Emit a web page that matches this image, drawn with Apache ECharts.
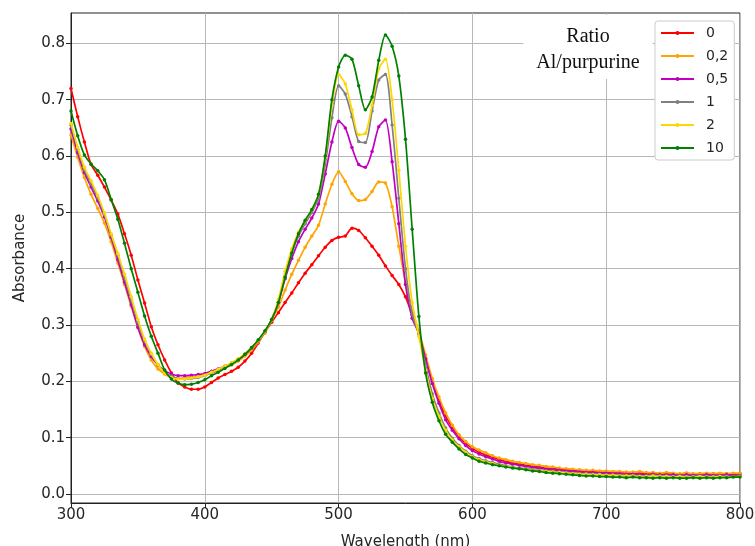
<!DOCTYPE html>
<html><head><meta charset="utf-8">
<script src="https://cdn.jsdelivr.net/npm/echarts@6/dist/echarts.min.js"></script>
<style>html,body{margin:0;padding:0;background:#fff}#c{width:755px;height:546px}</style>
</head><body><div id="c"></div>
<script>
const wavelengths = [300,305,310,315,320,325,330,335,340,345,350,355,360,365,370,375,380,385,390,395,
400,405,410,415,420,425,430,435,440,445,450,455,460,465,470,475,480,485,490,495,
500,505,510,515,520,525,530,535,540,545,550,555,560,565,570,575,580,585,590,595,
600,605,610,615,620,625,630,635,640,645,650,655,660,665,670,675,680,685,690,695,
700,705,710,715,720,725,730,735,740,745,750,755,760,765,770,775,780,785,790,795,800];

const ratio0 = [0.720,0.670,0.625,0.585,0.566,0.545,0.522,0.497,0.462,0.424,
0.380,0.339,0.297,0.265,0.238,0.215,0.197,0.190,0.186,0.186,
0.190,0.198,0.206,0.212,0.218,0.225,0.236,0.250,0.268,0.288,
0.305,0.322,0.340,0.357,0.375,0.392,0.407,0.423,0.438,0.450,
0.456,0.458,0.472,0.468,0.455,0.440,0.424,0.405,0.388,0.372,
0.350,0.318,0.285,0.240,0.200,0.166,0.139,0.118,0.102,0.090,
0.081,0.074,0.069,0.065,0.061,0.058,0.055,0.053,0.051,0.049,
0.048,0.046,0.045,0.044,0.043,0.042,0.041,0.040,0.040,0.039,
0.038,0.038,0.037,0.038,0.036,0.037,0.036,0.037,0.035,0.036,
0.036,0.035,0.037,0.035,0.036,0.035,0.036,0.035,0.036,0.035,0.036];

const ratio02 = [0.638,0.598,0.562,0.532,0.507,0.481,0.448,0.410,0.372,0.333,
0.295,0.262,0.238,0.222,0.213,0.207,0.205,0.206,0.208,0.209,
0.211,0.215,0.219,0.224,0.229,0.236,0.245,0.256,0.270,0.286,
0.308,0.332,0.362,0.390,0.415,0.438,0.458,0.477,0.515,0.550,
0.572,0.555,0.533,0.521,0.523,0.537,0.554,0.552,0.510,0.440,
0.375,0.325,0.290,0.247,0.205,0.172,0.144,0.122,0.105,0.093,
0.084,0.078,0.073,0.068,0.064,0.061,0.058,0.056,0.054,0.052,
0.051,0.049,0.048,0.046,0.045,0.044,0.043,0.042,0.042,0.041,
0.041,0.040,0.040,0.039,0.039,0.040,0.038,0.038,0.037,0.038,
0.037,0.036,0.037,0.036,0.036,0.037,0.036,0.037,0.036,0.037,0.037];

const ratio05 = [0.648,0.606,0.571,0.545,0.520,0.492,0.456,0.416,0.376,0.336,
0.296,0.265,0.244,0.229,0.219,0.213,0.210,0.210,0.211,0.212,
0.214,0.218,0.222,0.227,0.232,0.239,0.248,0.259,0.272,0.288,
0.310,0.340,0.382,0.418,0.448,0.470,0.490,0.515,0.568,0.625,
0.662,0.650,0.615,0.585,0.580,0.608,0.652,0.664,0.590,0.480,
0.372,0.312,0.285,0.240,0.196,0.161,0.132,0.113,0.098,0.086,
0.077,0.071,0.066,0.062,0.058,0.055,0.053,0.051,0.049,0.047,
0.046,0.044,0.043,0.042,0.041,0.040,0.039,0.038,0.038,0.037,
0.037,0.036,0.036,0.035,0.035,0.035,0.034,0.035,0.034,0.034,
0.034,0.033,0.034,0.033,0.033,0.034,0.033,0.033,0.034,0.033,0.033];

const ratio1 = [0.655,0.612,0.576,0.551,0.526,0.496,0.460,0.424,0.385,0.345,
0.305,0.272,0.248,0.229,0.216,0.209,0.205,0.204,0.205,0.207,
0.210,0.215,0.220,0.226,0.232,0.239,0.248,0.259,0.272,0.288,
0.310,0.340,0.388,0.428,0.458,0.480,0.500,0.525,0.585,0.668,
0.725,0.710,0.670,0.626,0.624,0.680,0.735,0.745,0.655,0.525,
0.400,0.320,0.283,0.228,0.178,0.144,0.117,0.099,0.086,0.076,
0.068,0.063,0.059,0.056,0.053,0.050,0.048,0.046,0.045,0.043,
0.042,0.041,0.040,0.039,0.038,0.037,0.036,0.036,0.035,0.035,
0.034,0.034,0.033,0.033,0.033,0.032,0.032,0.033,0.032,0.032,
0.031,0.032,0.031,0.031,0.032,0.031,0.031,0.032,0.031,0.031,0.032];

const ratio2 = [0.658,0.616,0.580,0.556,0.530,0.499,0.462,0.427,0.390,0.350,
0.310,0.275,0.250,0.230,0.215,0.207,0.204,0.204,0.206,0.208,
0.211,0.216,0.221,0.227,0.233,0.240,0.249,0.260,0.273,0.289,
0.310,0.345,0.395,0.435,0.465,0.485,0.505,0.532,0.598,0.690,
0.745,0.728,0.682,0.638,0.640,0.690,0.755,0.772,0.700,0.575,
0.440,0.340,0.280,0.220,0.170,0.138,0.113,0.096,0.084,0.074,
0.066,0.061,0.057,0.054,0.051,0.049,0.047,0.045,0.044,0.042,
0.041,0.040,0.039,0.038,0.037,0.036,0.035,0.035,0.034,0.034,
0.033,0.033,0.032,0.032,0.032,0.031,0.031,0.032,0.031,0.031,
0.030,0.031,0.030,0.030,0.031,0.030,0.030,0.031,0.030,0.030,0.031];

const ratio10 = [0.680,0.636,0.602,0.586,0.574,0.558,0.523,0.488,0.445,0.400,
0.358,0.316,0.280,0.250,0.220,0.204,0.197,0.194,0.195,0.198,
0.203,0.210,0.216,0.223,0.230,0.238,0.248,0.260,0.274,0.290,
0.310,0.340,0.385,0.428,0.462,0.486,0.505,0.532,0.600,0.700,
0.758,0.779,0.772,0.725,0.682,0.705,0.770,0.815,0.795,0.742,
0.630,0.470,0.315,0.215,0.163,0.130,0.106,0.092,0.080,0.070,
0.064,0.058,0.055,0.052,0.050,0.048,0.046,0.045,0.043,0.041,
0.040,0.038,0.037,0.036,0.035,0.034,0.033,0.032,0.032,0.031,
0.031,0.030,0.030,0.029,0.030,0.029,0.029,0.028,0.029,0.028,
0.029,0.028,0.028,0.029,0.028,0.029,0.028,0.029,0.029,0.030,0.030];

const seriesNames = ['0','0,2','0,5','1','2','10'];
const seriesValues = [ratio0, ratio02, ratio05, ratio1, ratio2, ratio10];
const seriesColors = ['#ff0000','#ffa500','#bf00bf','#808080','#ffd700','#008000'];
const xTicks = [300,400,500,600,700,800];
const yTicks = [0.0,0.1,0.2,0.3,0.4,0.5,0.6,0.7,0.8];

const FONT = 'DejaVu Sans';
const chart = echarts.init(document.getElementById('c'), null, {renderer:'canvas'});

const series = seriesNames.map((n,i)=>({
  name:n, type:'line',
  data: wavelengths.map((w,j)=>[w, seriesValues[i][j]]),
  symbol:'circle', symbolSize:3.5, showSymbol:true, showAllSymbol:true,
  smooth:0.25,
  lineStyle:{width:1.7, color:seriesColors[i]},
  itemStyle:{color:seriesColors[i]},
  emphasis:{disabled:true},
  z: 2+i, animation:false
}));

chart.setOption({
  animation:false,
  backgroundColor:'#fff',
  grid:{left:71, right:15, top:13, bottom:43, show:true, borderColor:'#222', borderWidth:1,
    backgroundColor:'transparent', containLabel:false, outerBoundsMode:'none'},
  xAxis:{
    type:'value', min:xTicks[0], max:xTicks[xTicks.length-1], interval:100,
    axisLine:{show:true, onZero:false, lineStyle:{color:'#222', width:1}},
    axisTick:{show:true, inside:false, length:5, lineStyle:{color:'#222'}},
    axisLabel:{fontFamily:FONT, fontSize:15, color:'#262626', margin:5},
    splitLine:{show:true, lineStyle:{color:'#b8b8b8', width:1}},
    name:'Wavelength (nm)', nameLocation:'middle', nameGap:32,
    nameTextStyle:{fontFamily:FONT, fontSize:15, color:'#262626'}
  },
  yAxis:{
    type:'value', min:-0.016, max:0.854,
    axisLine:{show:true, onZero:false, lineStyle:{color:'#222', width:1}},
    axisTick:{show:true, inside:false, length:5, lineStyle:{color:'#222'}, customValues:yTicks},
    axisLabel:{fontFamily:FONT, fontSize:15, color:'#262626', margin:6, customValues:yTicks, formatter:v=>Number(v).toFixed(1)},
    splitLine:{show:true, lineStyle:{color:'#b8b8b8', width:1}},
    name:'Absorbance', nameLocation:'middle', nameGap:43, nameRotate:90,
    nameTextStyle:{fontFamily:FONT, fontSize:15, color:'#262626'}
  },
  legend:{
    data:seriesNames, orient:'vertical', left:655, top:21,
    itemWidth:33, itemHeight:5, itemGap:7,
    backgroundColor:'#fff', borderColor:'#cccccc', borderWidth:1, borderRadius:3,
    padding:[4,6,4,5],
    textStyle:{fontFamily:FONT, fontSize:14, color:'#262626', lineHeight:16, padding:[0,0,0,7]},
    selectedMode:false
  },
  graphic:[{
    type:'text', x:588, y:15, z:10,
    style:{text:'Ratio\nAl/purpurine', fontFamily:'Liberation Serif', fontSize:20, fill:'#111',
      align:'center', verticalAlign:'top', lineHeight:26, backgroundColor:'#fff', padding:[9,13,3,13]}
  }],
  series:series
});
</script></body></html>
